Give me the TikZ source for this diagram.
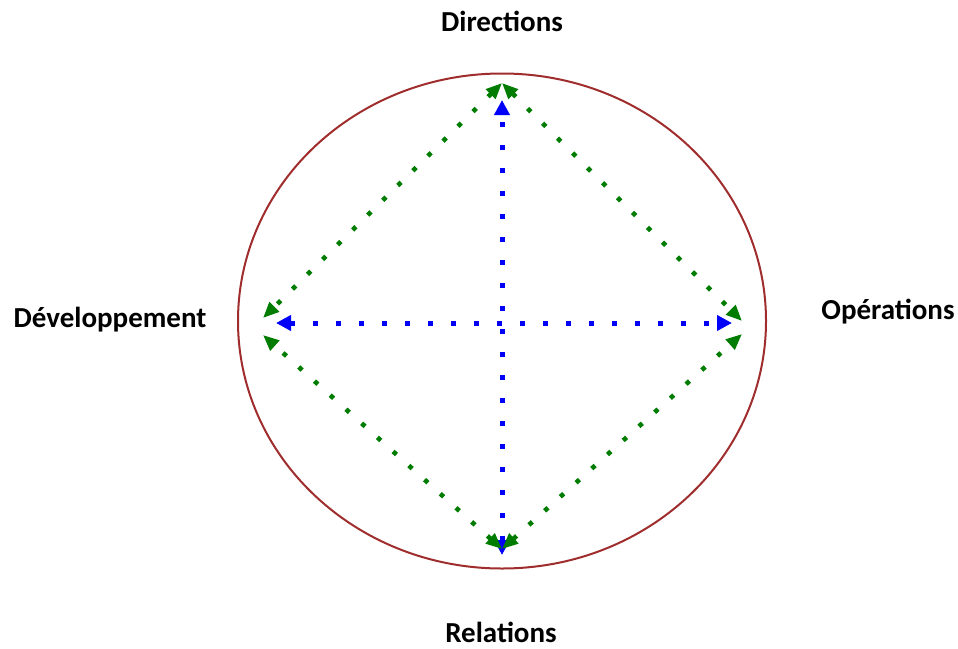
\documentclass[tikz,border=0pt]{standalone}
\usepackage{fontspec}
\setmainfont{Carlito}
\usetikzlibrary{calc, arrows.meta}

\definecolor{bordo}{RGB}{160,45,45}
\definecolor{verde}{RGB}{0,125,0}
\definecolor{blu}{RGB}{0,0,250}

\tikzset{
  etichetta/.style={font=\fontsize{29}{30}\selectfont\bfseries, inner sep=0pt},
  lato/.style={verde, line width=4.6pt, dash pattern=on 4.6pt off 16.5pt,
    {Triangle[length=16pt,width=13pt]}-{Triangle[length=16pt,width=13pt]}},
  asse/.style={blu, line width=5pt, dash pattern=on 5pt off 18pt,
    {Triangle[length=15pt,width=15pt]}-{Triangle[length=15pt,width=15pt]}}
}

\begin{document}
\begin{tikzpicture}[x=1pt, y=-1pt]
  \useasboundingbox (0,0) rectangle (958,648);

  % centro
  \coordinate (O) at (502,321);

  % cerchio
  \draw[bordo, line width=2pt] (O) ellipse [x radius=264, y radius=247.5];

  % etichette
  \node[etichetta] (dir) at (502,21) {Directions};
  \node[etichetta] (svi) at (110,320) {Développement};
  \node[etichetta] (ope) at (888,312) {Opérations};
  \node[etichetta] (rel) at (501,632) {Relations};

  % estremi degli assi
  \coordinate (N) at (502,100);
  \coordinate (S) at (502,555);
  \coordinate (W) at (276,323);
  \coordinate (E) at (732,323);

  % assi
  \draw[asse] (S) -- (N);
  \draw[asse] (W) -- (E);

  % vertici del rombo
  \coordinate (Na) at (502,83);
  \coordinate (Sa) at (502,549);
  \coordinate (Wa) at (263,318);
  \coordinate (Wb) at (263,335);
  \coordinate (Ea) at (742,321);
  \coordinate (Eb) at (742,334);

  % lati del rombo
  \draw[lato] (Na) -- (Wa);
  \draw[lato] (Na) -- (Ea);
  \draw[lato] (Sa) -- (Wb);
  \draw[lato] (Sa) -- (Eb);
\end{tikzpicture}
\end{document}
